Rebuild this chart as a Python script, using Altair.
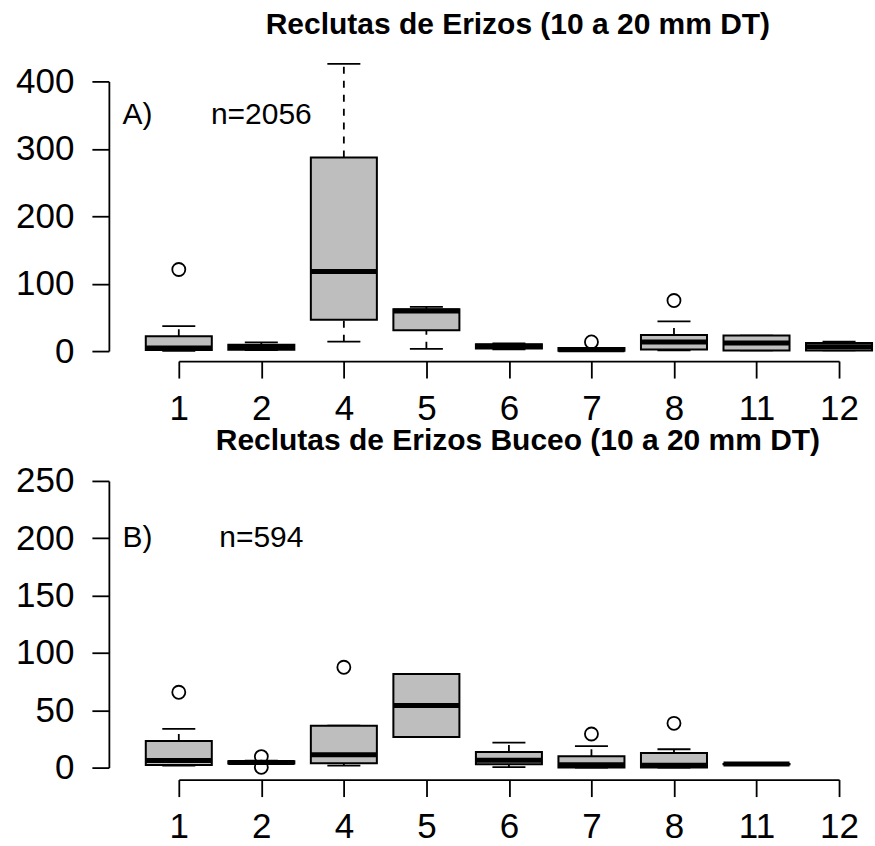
import altair as alt
import pandas as pd

FONT = "Liberation Sans"

# ---------------- data ----------------
months = ["1", "2", "4", "5", "6", "7", "8", "11", "12"]
positions = list(range(1, 10))

# Panel A: Reclutas de Erizos (10 a 20 mm DT)
a_months = ["1", "2", "4", "5", "6", "7", "8", "11", "12"]
a_lower = [0.5, 1.5, 14.0, 3.4, 2.5, 0.0, 1.0, 1.0, 1.0]
a_q1 = [1.5, 2.0, 46.5, 31.0, 4.0, 0.5, 2.5, 1.0, 1.0]
a_median = [4.5, 5.5, 118.0, 59.5, 7.0, 2.0, 13.5, 12.0, 6.5]
a_q3 = [22.0, 9.5, 287.0, 62.0, 10.0, 4.5, 24.0, 23.0, 12.0]
a_upper = [37.0, 13.0, 426.0, 65.5, 11.5, 4.5, 44.0, 23.0, 14.0]
a_out_months = ["1", "7", "8"]
a_out_values = [121.0, 13.5, 75.0]

# Panel B: Reclutas de Erizos Buceo (10 a 20 mm DT)
b_months = ["1", "2", "4", "5", "6", "7", "8", "11"]
b_lower = [1.7, 3.0, 1.7, 26.7, 0.5, 0.0, 0.0, 3.0]
b_q1 = [2.3, 3.5, 3.7, 26.7, 2.9, 0.0, 0.0, 3.0]
b_median = [6.1, 4.4, 11.3, 54.1, 6.4, 2.5, 2.0, 3.1]
b_q3 = [23.2, 5.5, 36.6, 81.7, 13.6, 9.9, 12.8, 3.2]
b_upper = [33.7, 6.0, 36.6, 81.7, 21.8, 18.8, 16.0, 3.2]
b_out_months = ["1", "2", "2", "4", "7", "8"]
b_out_values = [65.7, 9.6, 0.3, 87.5, 29.3, 38.6]

a_title = "Reclutas de Erizos (10 a 20 mm DT)"
b_title = "Reclutas de Erizos Buceo (10 a 20 mm DT)"
a_notes = ["A)", "n=2056"]
a_notes_x = [0.5, 2.0]
a_notes_y = [350, 350]
b_notes = ["B)", "n=594"]
b_notes_x = [0.5, 2.0]
b_notes_y = [200, 200]

a_yticks = [0, 100, 200, 300, 400]
b_yticks = [0, 50, 100, 150, 200, 250]

# ---------------- helpers ----------------
pos_of = {m: i + 1 for i, m in enumerate(months)}
label_expr = "[" + ",".join("'%s'" % m for m in months) + "][datum.value - 1]"


def stats_frame(ms, lo, q1, med, q3, up):
    return pd.DataFrame({
        "month": ms, "pos": [pos_of[m] for m in ms],
        "lo": lo, "q1": q1, "med": med, "q3": q3, "up": up,
    })


def panel(stats, out_m, out_v, notes, nx, ny, title, yticks, ymax, height,
          x_offset, title_offset):
    xscale = alt.Scale(domain=[1, 9], nice=False, zero=False)
    yscale = alt.Scale(domain=[0, ymax], nice=False, zero=False)
    xaxis = alt.Axis(values=positions, labelExpr=label_expr, title=None,
                     offset=x_offset, labelPadding=13)
    yaxis = alt.Axis(values=yticks, title=None, offset=70, labelPadding=18)

    base = alt.Chart(stats).transform_calculate(
        xl="datum.pos - 0.4", xr="datum.pos + 0.4",
        cl="datum.pos - 0.2", cr="datum.pos + 0.2",
    )

    whisk_lo = base.mark_rule(color="black", strokeWidth=1.8, strokeDash=[7, 7]).encode(
        x=alt.X("pos:Q", scale=xscale, axis=xaxis),
        y=alt.Y("lo:Q", scale=yscale, axis=yaxis), y2="q1:Q")
    whisk_up = base.mark_rule(color="black", strokeWidth=1.8, strokeDash=[7, 7]).encode(
        x=alt.X("pos:Q", scale=xscale, axis=xaxis),
        y=alt.Y("q3:Q", scale=yscale, axis=yaxis), y2="up:Q")
    cap_lo = base.mark_rule(color="black", strokeWidth=1.8).encode(
        x=alt.X("cl:Q", scale=xscale, axis=xaxis), x2="cr:Q",
        y=alt.Y("lo:Q", scale=yscale, axis=yaxis))
    cap_up = base.mark_rule(color="black", strokeWidth=1.8).encode(
        x=alt.X("cl:Q", scale=xscale, axis=xaxis), x2="cr:Q",
        y=alt.Y("up:Q", scale=yscale, axis=yaxis))
    box = base.mark_rect(fill="#bebebe", stroke="black", strokeWidth=2).encode(
        x=alt.X("xl:Q", scale=xscale, axis=xaxis), x2="xr:Q",
        y=alt.Y("q1:Q", scale=yscale, axis=yaxis), y2="q3:Q")
    med = base.mark_rule(color="black", strokeWidth=5).encode(
        x=alt.X("xl:Q", scale=xscale, axis=xaxis), x2="xr:Q",
        y=alt.Y("med:Q", scale=yscale, axis=yaxis))

    outs = pd.DataFrame({"pos": [pos_of[m] for m in out_m], "value": out_v})
    pts = alt.Chart(outs).mark_point(shape="circle", filled=False, color="black",
                                     size=170, strokeWidth=1.8, opacity=1).encode(
        x=alt.X("pos:Q", scale=xscale, axis=xaxis),
        y=alt.Y("value:Q", scale=yscale, axis=yaxis))

    ann = pd.DataFrame({"text": notes, "x": nx, "y": ny})
    txt = alt.Chart(ann).mark_text(font=FONT, fontSize=30, color="black",
                                   align="center", baseline="middle").encode(
        x=alt.X("x:Q", scale=xscale, axis=xaxis),
        y=alt.Y("y:Q", scale=yscale, axis=yaxis), text="text:N")

    return alt.layer(whisk_lo, whisk_up, cap_lo, cap_up, box, med, pts, txt).properties(
        width=661, height=height,
        title=alt.TitleParams(title, font=FONT, fontSize=30, fontWeight="bold",
                              color="black", anchor="middle", frame="group", dx=9,
                              offset=title_offset),
    )


top = panel(stats_frame(a_months, a_lower, a_q1, a_median, a_q3, a_upper),
            a_out_months, a_out_values, a_notes, a_notes_x, a_notes_y,
            a_title, a_yticks, 400, 270, 10, 23)
bottom = panel(stats_frame(b_months, b_lower, b_q1, b_median, b_q3, b_upper),
               b_out_months, b_out_values, b_notes, b_notes_x, b_notes_y,
               b_title, b_yticks, 250, 287, 12, 8)

chart = alt.vconcat(top, bottom, spacing=0).properties(
    padding={"left": 15, "top": 9, "right": 0, "bottom": 0}
).configure_view(stroke=None).configure_axis(
    grid=False, labelFont=FONT, labelFontSize=35, labelColor="black",
    domainColor="black", domainWidth=1.8, tickColor="black", tickWidth=1.8,
    tickSize=17, labelFlush=False, labelOverlap=False,
)

chart.save("out.html", embed_options={"renderer": "svg", "actions": False})
